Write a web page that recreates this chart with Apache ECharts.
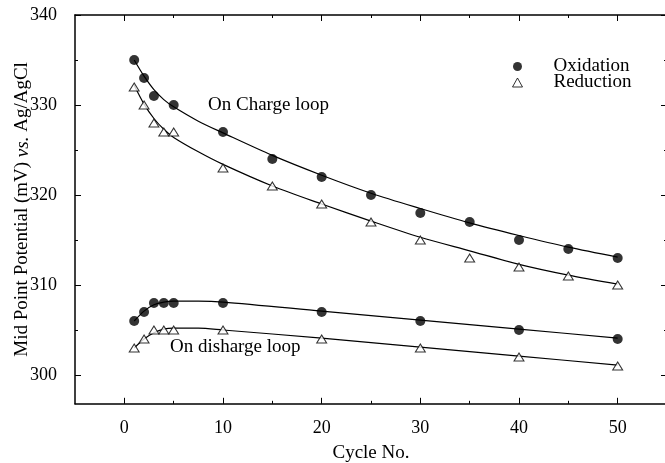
<!DOCTYPE html>
<html>
<head>
<meta charset="utf-8">
<script src="https://cdn.jsdelivr.net/npm/echarts@6/dist/echarts.min.js"></script>
<style>html,body{margin:0;padding:0;background:#fff}#c{width:665px;height:463px}</style>
</head>
<body>
<div id="c"></div>
<script>
// ---- data ----
var chargeOxCycles = [1, 2, 3, 5, 10, 15, 20, 25, 30, 35, 40, 45, 50];
var chargeOx = [335, 333, 331, 330, 327, 324, 322, 320, 318, 317, 315, 314, 313];
var chargeRedCycles = [1, 2, 3, 4, 5, 10, 15, 20, 25, 30, 35, 40, 45, 50];
var chargeRed = [332, 330, 328, 327, 327, 323, 321, 319, 317, 315, 313, 312, 311, 310];
var dischargeCycles = [1, 2, 3, 4, 5, 10, 20, 30, 40, 50];
var dischargeOx = [306, 307, 308, 308, 308, 308, 307, 306, 305, 304];
var dischargeRed = [303, 304, 305, 305, 305, 305, 304, 303, 302, 301];
// fitted curves
var chargeFitX = [1, 2, 3, 4, 5, 7.5, 10, 15, 20, 25, 30, 35, 40, 45, 50];
var chargeOxFit = [335, 333.2, 331.7, 330.6, 329.8, 328.2, 326.9, 324.4, 322.2, 320.2, 318.5, 316.9, 315.5, 314.2, 313.1];
var chargeRedFit = [332.2, 330.1, 328.5, 327.3, 326.4, 324.8, 323.4, 321.0, 319.0, 317.1, 315.3, 313.8, 312.3, 311.1, 310.1];
var dischargeFitX = [1, 2, 3, 4, 5, 7.5, 10, 20, 30, 40, 50];
var dischargeOxFit = [306, 307.1, 307.8, 308.1, 308.2, 308.2, 308.1, 307.1, 306.1, 305.1, 304.1];
var dischargeRedFit = [303, 304, 304.7, 305.1, 305.2, 305.2, 305.0, 304.1, 303.1, 302.1, 301.1];
var xMajorTicks = [0, 10, 20, 30, 40, 50];
var xMinorTicks = [5, 15, 25, 35, 45];
var yMajorTicks = [300, 310, 320, 330, 340];
var yMinorTicks = [305, 315, 325, 335];
var legendNames = ['Oxidation', 'Reduction'];
var xTitle = 'Cycle No.';
var yTitle = 'Mid Point Potential (mV) {i|vs.} Ag/AgCl';
var chargeLabel = 'On Charge loop';
var dischargeLabel = 'On disharge loop';

function zip(xs, ys) { return xs.map(function (x, i) { return [x, ys[i]]; }); }

var FONT = '"Liberation Serif", "Times New Roman", serif';
var FS = 19, TFS = 18;
var XMIN = -5, XMAX = 55, YMIN = 296.8, YMAX = 340;

function xAx(pos, ticks, len, showLine, labels) {
  return {
    type: 'value', position: pos, min: XMIN, max: XMAX,
    axisLine: { show: showLine, onZero: false, lineStyle: { color: '#000', width: 1.5 } },
    axisTick: { show: true, inside: true, length: len, customValues: ticks, lineStyle: { color: '#000', width: 1 } },
    axisLabel: labels ? { show: true, customValues: labels, color: '#000', fontFamily: FONT, fontSize: TFS, margin: 15 } : { show: false },
    splitLine: { show: false }
  };
}
function yAx(pos, ticks, len, showLine, labels) {
  return {
    type: 'value', position: pos, min: YMIN, max: YMAX,
    axisLine: { show: showLine, onZero: false, lineStyle: { color: '#000', width: 1.5 } },
    axisTick: { show: true, inside: true, length: len, customValues: ticks, lineStyle: { color: '#000', width: 1 } },
    axisLabel: labels ? { show: true, customValues: labels, color: '#000', fontFamily: FONT, fontSize: TFS, margin: 18 } : { show: false },
    splitLine: { show: false }
  };
}

var xBottom = xAx('bottom', xMajorTicks, 6, true, xMajorTicks);
xBottom.name = xTitle;
xBottom.nameLocation = 'middle';
xBottom.nameGap = 40;
xBottom.nameMoveOverlap = false;
xBottom.nameTextStyle = { color: '#000', fontFamily: FONT, fontSize: FS };

var yLeft = yAx('left', yMajorTicks, 6, true, yMajorTicks);
yLeft.name = yTitle;
yLeft.nameLocation = 'middle';
yLeft.nameGap = 43;
yLeft.nameMoveOverlap = false;
yLeft.nameTextStyle = { color: '#000', fontFamily: FONT, fontSize: FS, rich: { i: { fontStyle: 'italic', fontFamily: FONT, fontSize: FS, color: '#000' } } };

var lineStyle = { color: '#000', width: 1.2 };
function fitSeries(name, xs, ys) {
  return { name: name, type: 'line', xAxisIndex: 0, yAxisIndex: 0, data: zip(xs, ys), showSymbol: false, symbol: 'none',
    smooth: 0.3, lineStyle: lineStyle, silent: true, z: 2 };
}
var dot = { symbol: 'circle', symbolSize: 10, itemStyle: { color: '#000' } };
var tri = { symbol: 'triangle', symbolSize: [10, 8], itemStyle: { color: '#fff', borderColor: '#000', borderWidth: 1 } };
function pts(name, xs, ys, st) {
  return { name: name, type: 'scatter', xAxisIndex: 0, yAxisIndex: 0, data: zip(xs, ys), symbol: st.symbol, symbolSize: st.symbolSize, itemStyle: st.itemStyle, z: 5 };
}

var chart = echarts.init(document.getElementById('c'), null, { renderer: 'canvas' });
chart.setOption({
  animation: false,
  backgroundColor: '#fff',
  grid: { left: 75, top: 15, width: 592, height: 388.8, containLabel: false, outerBoundsMode: 'none' },
  xAxis: [xBottom, xAx('bottom', xMinorTicks, 3, false, null), xAx('top', xMajorTicks, 6, true, null), xAx('top', xMinorTicks, 3, false, null)],
  yAxis: [yLeft, yAx('left', yMinorTicks, 3, false, null), yAx('right', yMajorTicks, 6, true, null), yAx('right', yMinorTicks, 3, false, null)],
  legend: {
    data: [{ name: legendNames[0], icon: 'circle' }, { name: legendNames[1], icon: 'triangle', itemStyle: { color: '#fff', borderColor: '#000', borderWidth: 1 } }],
    orient: 'vertical', left: 512, top: 57, padding: 0, itemWidth: 10, itemHeight: 9, itemGap: -3,
    textStyle: { color: '#000', fontFamily: FONT, fontSize: FS, padding: [0, 0, 0, 26] }
  },
  graphic: [
    { type: 'text', left: 208, top: 96, style: { text: chargeLabel, fill: '#000', font: FS + 'px ' + FONT } },
    { type: 'text', left: 170, top: 338, style: { text: dischargeLabel, fill: '#000', font: FS + 'px ' + FONT } }
  ],
  series: [
    fitSeries('fit1', chargeFitX, chargeOxFit),
    fitSeries('fit2', chargeFitX, chargeRedFit),
    fitSeries('fit3', dischargeFitX, dischargeOxFit),
    fitSeries('fit4', dischargeFitX, dischargeRedFit),
    pts(legendNames[0], chargeOxCycles, chargeOx, dot),
    pts(legendNames[1], chargeRedCycles, chargeRed, tri),
    pts(legendNames[0], dischargeCycles, dischargeOx, dot),
    pts(legendNames[1], dischargeCycles, dischargeRed, tri)
  ]
});
</script>
</body>
</html>
